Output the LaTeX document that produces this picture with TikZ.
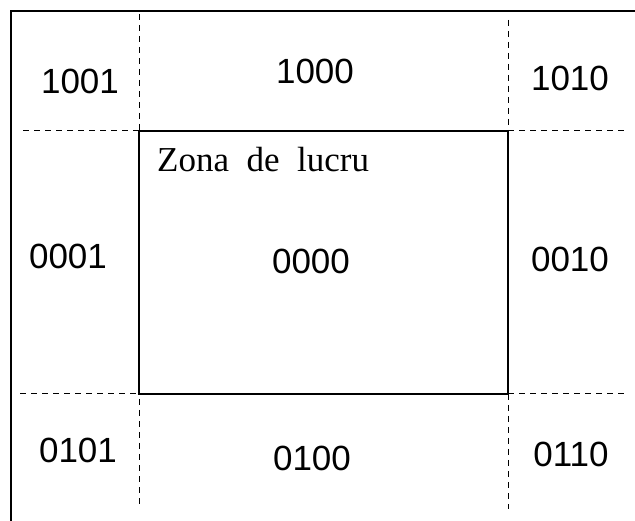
\documentclass[tikz,border=0pt]{standalone}
\usepackage{fontspec}
\setmainfont{Liberation Serif}
\newfontfamily\codefont{Liberation Sans}
\begin{document}
\begin{tikzpicture}[x=1pt,y=-1pt,
  code/.style={font=\codefont\fontsize{35}{40}\selectfont, inner sep=0pt, anchor=center},
  border/.style={line width=2pt},
  guide/.style={line width=1pt, dash pattern=on 6pt off 5pt},
  zone/.style={line width=2pt}]
\useasboundingbox (0,0) rectangle (635,521);

% outer frame: top and left edges only
\draw[border] (635,11) -- (11,11) -- (11,521);

% extensions of the window edges
\draw[guide] (139,14) -- (139,505);
\draw[guide] (508,20) -- (508,509);
\draw[guide] (23,131) -- (139,131);
\draw[guide] (508,131) -- (628,131);
\draw[guide] (20,394) -- (139,394);
\draw[guide] (508,394) -- (624,394);

% the working zone
\draw[zone] (139,131) rectangle (508,394);
\node[font=\fontsize{35}{40}\selectfont, inner sep=0pt, anchor=base west] (zl) at (157,172) {Zona\hspace{0.25em} de\hspace{0.25em} lucru};

% region codes
\node[code] (c1001) at (80,81) {1001};
\node[code] (c1000) at (315,71) {1000};
\node[code] (c1010) at (570,78) {1010};
\node[code] (c0001) at (68,256) {0001};
\node[code] (c0000) at (311,261) {0000};
\node[code] (c0010) at (570,259) {0010};
\node[code] (c0101) at (78,450) {0101};
\node[code] (c0100) at (312,458) {0100};
\node[code] (c0110) at (571,454) {0110};
\end{tikzpicture}
\end{document}
